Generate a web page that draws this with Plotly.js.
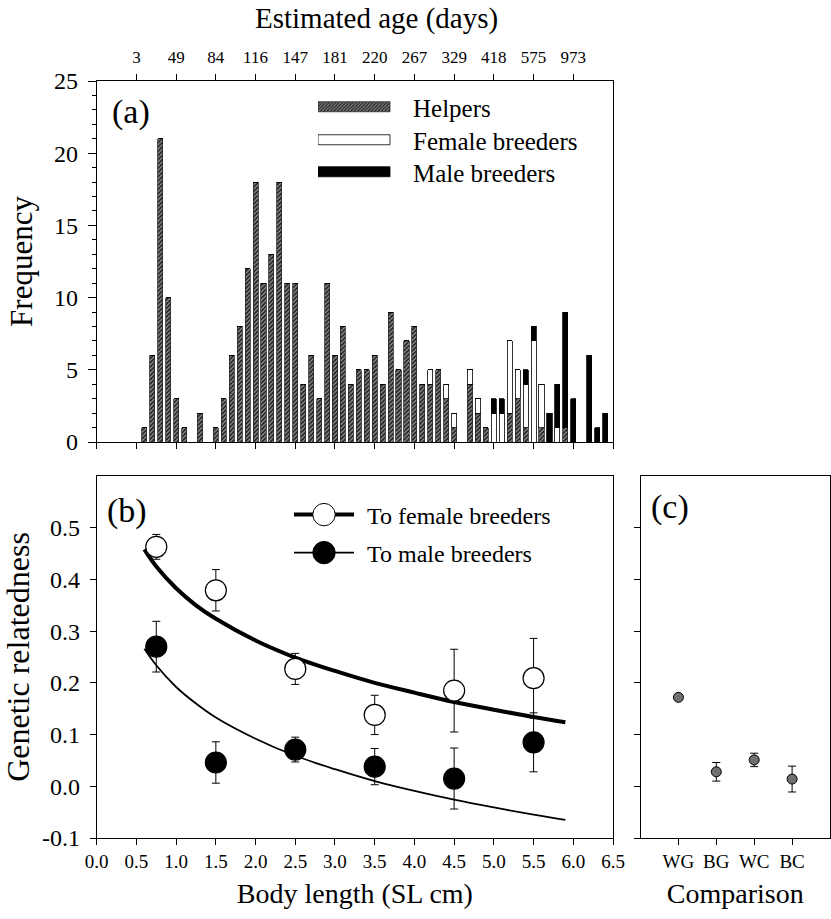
<!DOCTYPE html>
<html>
<head>
<meta charset="utf-8">
<script src="https://cdn.plot.ly/plotly-3.0.1.min.js"></script>
<style>
  html, body { margin: 0; padding: 0; background: #fff; }
  #chart { width: 831px; height: 919px; }
  /* long legend swatches for panel (a) */
  .legend .legendpoints path, .legend2 .legendpoints path, .legend3 .legendpoints path {
    d: path("M-47.5,5H24.5V-5H-47.5Z");
  }
  /* legend entries of panel (b): longer line, bigger marker, full opacity */
  .legend4 .traces, .legend5 .traces { opacity: 1 !important; }
  .legend4 .legendlines path, .legend5 .legendlines path { d: path("M0,0H60"); }
  .legend4 .legendpoints path, .legend5 .legendpoints path {
    transform: translate(30px, 0px) scale(1.4);
    vector-effect: non-scaling-stroke;
  }
</style>
</head>
<body>
<div id="chart"></div>
<script>
// ---------- Panel (a): size-frequency histogram ----------
const bodyLength = [0.6,0.7,0.8,0.9,1.0,1.1,1.2,1.3,1.4,1.5,1.6,1.7,1.8,1.9,2.0,2.1,2.2,2.3,2.4,2.5,
  2.6,2.7,2.8,2.9,3.0,3.1,3.2,3.3,3.4,3.5,3.6,3.7,3.8,3.9,4.0,4.1,4.2,4.3,4.4,4.5,
  4.6,4.7,4.8,4.9,5.0,5.1,5.2,5.3,5.4,5.5,5.6,5.7,5.8,5.9,6.0,6.1,6.2,6.3,6.4];
const helpers = [1,6,21,10,3,1,0,2,0,1,3,6,8,12,18,11,13,18,11,11,
  4,6,3,11,6,8,4,5,5,6,4,9,5,7,8,4,4,5,3,1,
  0,4,2,1,0,0,2,3,1,0,1,0,0,1,0,0,0,0,0];
const femaleBreeders = [0,0,0,0,0,0,0,0,0,0,0,0,0,0,0,0,0,0,0,0,
  0,0,0,0,0,0,0,0,0,0,0,0,0,0,0,0,1,0,1,1,
  0,1,1,0,2,2,5,2,3,7,3,0,1,0,0,0,0,0,0];
const maleBreeders = [0,0,0,0,0,0,0,0,0,0,0,0,0,0,0,0,0,0,0,0,
  0,0,0,0,0,0,0,0,0,0,0,0,0,0,0,0,0,0,0,0,
  0,0,0,0,1,1,0,0,1,1,0,2,3,8,3,0,6,1,2];
const ageTickPositions = [0.5,1.0,1.5,2.0,2.5,3.0,3.5,4.0,4.5,5.0,5.5,6.0];
const ageTickLabels = ['3','49','84','116','147','181','220','267','329','418','575','973'];

// ---------- Panel (b): relatedness vs body length ----------
const sizeClass = [0.75,1.5,2.5,3.5,4.5,5.5];
const relFemale = [0.463,0.379,0.227,0.138,0.185,0.209];
const relFemaleErr = [0.024,0.040,0.030,0.038,0.080,0.077];
const relMale = [0.270,0.046,0.071,0.038,0.015,0.085];
const relMaleErr = [0.049,0.040,0.024,0.035,0.059,0.057];
const curveLength = [0.6,0.75,1.0,1.25,1.5,2.0,2.5,3.0,3.5,4.0,4.5,5.0,5.5,5.9];
const curveFemale = [0.458,0.425,0.383,0.350,0.324,0.282,0.249,0.223,0.200,0.181,0.163,0.148,0.134,0.124];
const curveMale = [0.266,0.234,0.192,0.160,0.133,0.092,0.059,0.033,0.010,-0.009,-0.026,-0.041,-0.055,-0.065];
const relTickVals = [-0.1,0.0,0.1,0.2,0.3,0.4,0.5];
const relTickText = ['-0.1','0.0','0.1','0.2','0.3','0.4','0.5'];

// ---------- Panel (c): comparisons ----------
const comparisons = ['WG','BG','WC','BC'];
const relComp = [0.172,0.028,0.051,0.014];
const relCompErr = [0.004,0.018,0.013,0.025];

const FONT = '"Liberation Serif", "Times New Roman", Times, serif';
const W = 831, H = 919;
const px = v => v / W;
const py = v => (H - v) / H;
const domX = [px(96.7), px(613)];
const domC = [px(640.5), px(830)];
const domA = [py(442), py(81)];
const domB = [py(838), py(476)];

const hatch = { color:'#8c8c8c',
  pattern:{ shape:'/', fgcolor:'#1a1a1a', bgcolor:'#8c8c8c', size:3, solidity:0.5 },
  line:{ color:'#2a2a2a', width:0.8 } };

const data = [
  { type:'bar', x: bodyLength, y: helpers, name:'Helpers', xaxis:'x', yaxis:'y', legend:'legend', marker: hatch },
  { type:'bar', x: bodyLength, y: femaleBreeders, name:'Female breeders', xaxis:'x', yaxis:'y', legend:'legend2',
    marker:{ color:'#ffffff', line:{ color:'#000', width:0.8 } } },
  { type:'bar', x: bodyLength, y: maleBreeders, name:'Male breeders', xaxis:'x', yaxis:'y', legend:'legend3',
    marker:{ color:'#000000', line:{ color:'#000', width:0.8 } } },
  // carrier for the top (estimated age) axis
  { type:'scatter', mode:'markers', x: [], y: [], xaxis:'x2', yaxis:'y', showlegend:false, hoverinfo:'skip' },

  { type:'scatter', mode:'lines', x: curveLength, y: curveFemale, xaxis:'x3', yaxis:'y3', showlegend:false,
    line:{ color:'#000', width:4, shape:'spline' } },
  { type:'scatter', mode:'lines', x: curveLength, y: curveMale, xaxis:'x3', yaxis:'y3', showlegend:false,
    line:{ color:'#000', width:1.8, shape:'spline' } },
  { type:'scatter', mode:'markers', x: sizeClass, y: relFemale, xaxis:'x3', yaxis:'y3', showlegend:false,
    error_y:{ type:'data', array: relFemaleErr, visible:true, color:'#000', thickness:1, width:4 },
    marker:{ size:21, color:'#fff', line:{ color:'#000', width:1.2 } } },
  { type:'scatter', mode:'markers', x: sizeClass, y: relMale, xaxis:'x3', yaxis:'y3', showlegend:false,
    error_y:{ type:'data', array: relMaleErr, visible:true, color:'#000', thickness:1, width:4 },
    marker:{ size:21, color:'#000', line:{ color:'#000', width:1.2 } } },
  // legend entries (line + symbol) of panel (b)
  { type:'scatter', mode:'lines+markers', x: sizeClass, y: relFemale, xaxis:'x3', yaxis:'y3', legend:'legend4',
    visible:'legendonly', name:'To female breeders', line:{ color:'#000', width:4 },
    marker:{ size:16, color:'#fff', line:{ color:'#000', width:1 } } },
  { type:'scatter', mode:'lines+markers', x: sizeClass, y: relMale, xaxis:'x3', yaxis:'y3', legend:'legend5',
    visible:'legendonly', name:'To male breeders', line:{ color:'#000', width:1.8 },
    marker:{ size:16, color:'#000', line:{ color:'#000', width:1 } } },

  { type:'scatter', mode:'markers', x: comparisons, y: relComp, xaxis:'x4', yaxis:'y4', showlegend:false,
    error_y:{ type:'data', array: relCompErr, visible:true, color:'#000', thickness:1, width:4 },
    marker:{ size:10, color:'#707070', line:{ color:'#000', width:1 } } }
];

const axBase = { showline:true, linecolor:'#000', linewidth:1, ticks:'outside', tickcolor:'#000',
  tickwidth:1, showgrid:false, zeroline:false, fixedrange:true };

function legendAt(x, y, size, itemwidth) {
  return { x: px(x), y: py(y), xanchor:'left', yanchor:'middle', bgcolor:'rgba(0,0,0,0)', borderwidth:0,
    font:{ size: size, family: FONT, color:'#000' }, itemwidth: itemwidth };
}

const layout = {
  width: W, height: H,
  margin:{ l:0, r:0, t:0, b:0 },
  paper_bgcolor:'#fff', plot_bgcolor:'#fff',
  font:{ family: FONT, color:'#000' },
  barmode:'stack', bargap:0.36,
  showlegend:true,
  xaxis: Object.assign({}, axBase, { domain: domX, anchor:'y', range:[0,6.5], tickmode:'linear', tick0:0, dtick:0.5,
    ticklen:6, showticklabels:false }),
  xaxis2: Object.assign({}, axBase, { overlaying:'x', side:'top', anchor:'y', range:[0,6.5], tickmode:'array',
    tickvals: ageTickPositions, ticktext: ageTickLabels, ticklen:6, ticklabelstandoff:4,
    tickfont:{ size:17, family: FONT } }),
  yaxis: Object.assign({}, axBase, { domain: domA, anchor:'x', range:[0,25], tickmode:'linear', tick0:0, dtick:5,
    ticklen:8, mirror:true, tickfont:{ size:24, family: FONT }, ticklabelstandoff:5,
    minor:{ dtick:1, ticklen:4, ticks:'outside', tickcolor:'#000', showgrid:false },
    title:{ text:'Frequency', font:{ size:31, family: FONT }, standoff:12 } }),
  xaxis3: Object.assign({}, axBase, { domain: domX, anchor:'y3', range:[0,6.5], tickmode:'linear', tick0:0, dtick:0.5,
    tickformat:'.1f', ticklen:6, mirror:true, tickfont:{ size:19, family: FONT },
    title:{ text:'Body length (SL cm)', font:{ size:28, family: FONT }, standoff:12 } }),
  yaxis3: Object.assign({}, axBase, { domain: domB, anchor:'x3', range:[-0.1,0.6], tickmode:'array',
    tickvals: relTickVals, ticktext: relTickText, ticklen:6, mirror:true, ticklabelstandoff:5,
    tickfont:{ size:24, family: FONT },
    title:{ text:'Genetic relatedness', font:{ size:32, family: FONT }, standoff:10 } }),
  xaxis4: Object.assign({}, axBase, { domain: domC, anchor:'y4', type:'category', range:[-1,4], ticklen:6,
    mirror:true, tickfont:{ size:19, family: FONT },
    title:{ text:'Comparison', font:{ size:28, family: FONT }, standoff:12 } }),
  yaxis4: Object.assign({}, axBase, { domain: domB, anchor:'x4', range:[-0.1,0.6], tickmode:'array',
    tickvals: relTickVals, ticklen:6, mirror:true, showticklabels:false }),
  legend:  legendAt(318, 107, 25, 85),
  legend2: legendAt(318, 140, 25, 85),
  legend3: legendAt(318, 172, 25, 85),
  legend4: legendAt(294, 515, 24, 63),
  legend5: legendAt(294, 553, 24, 63),
  annotations:[
    { text:'Estimated age (days)', xref:'paper', yref:'paper', x: px(376), y: py(19), xanchor:'center', yanchor:'middle',
      showarrow:false, font:{ size:29, family: FONT } },
    { text:'(a)', xref:'paper', yref:'paper', x: px(131), y: py(112), xanchor:'center', yanchor:'middle',
      showarrow:false, font:{ size:34, family: FONT } },
    { text:'(b)', xref:'paper', yref:'paper', x: px(127), y: py(511), xanchor:'center', yanchor:'middle',
      showarrow:false, font:{ size:34, family: FONT } },
    { text:'(c)', xref:'paper', yref:'paper', x: px(670), y: py(507), xanchor:'center', yanchor:'middle',
      showarrow:false, font:{ size:34, family: FONT } }
  ]
};

function fixLegends(gd) {
  gd.querySelectorAll('g.traces').forEach(function(item){
    const t = item.querySelector('text.legendtext');
    if (!t) return;
    t.style.fontFamily = FONT;
    const name = t.textContent;
    if (name === 'Helpers' || name === 'Female breeders' || name === 'Male breeders') {
      item.querySelectorAll('.legendpoints path').forEach(function(p){
        p.setAttribute('d', 'M-47.5,5H24.5V-5H-47.5Z');
      });
    } else if (name.indexOf('To ') === 0) {
      item.style.opacity = '1';
      item.querySelectorAll('.legendlines path').forEach(function(p){ p.setAttribute('d', 'M0,0H60'); });
      item.querySelectorAll('.legendpoints path').forEach(function(p){
        p.setAttribute('transform', 'translate(30,0) scale(1.4)');
      });
    }
  });
}

const gdEl = document.getElementById('chart');
Plotly.newPlot(gdEl, data, layout, { staticPlot:true, displayModeBar:false }).then(function(gd){
  fixLegends(gd);
  if (gd.on) gd.on('plotly_afterplot', function(){ fixLegends(gd); });
  setTimeout(function(){ fixLegends(gd); }, 0);
  setTimeout(function(){ fixLegends(gd); }, 150);
});
</script>
</body>
</html>
